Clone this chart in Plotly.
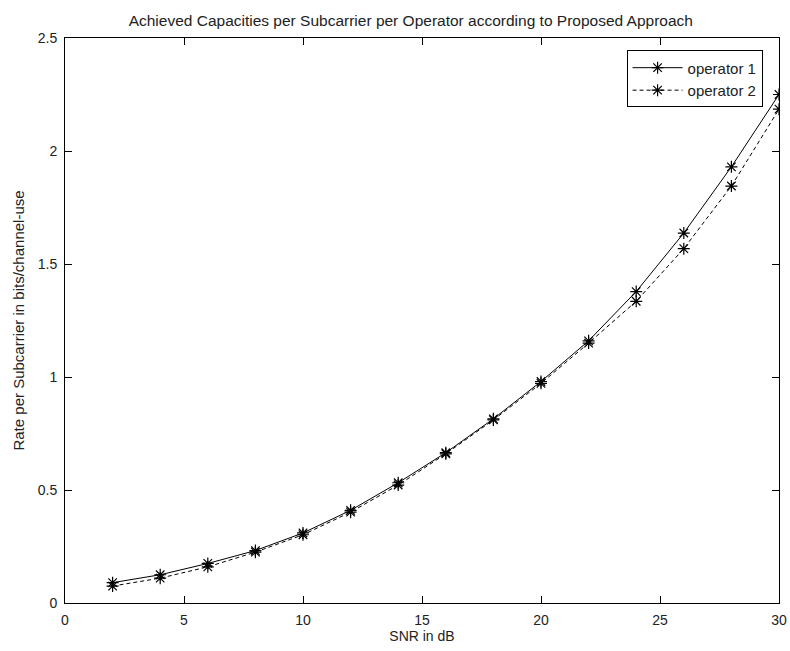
import plotly.graph_objects as go

snr = [2, 4, 6, 8, 10, 12, 14, 16, 18, 20, 22, 24, 26, 28, 30]
op1 = [0.09, 0.125, 0.175, 0.232, 0.31, 0.41, 0.532, 0.665, 0.815, 0.98, 1.16, 1.378, 1.637, 1.93, 2.25]
op2 = [0.075, 0.11, 0.16, 0.225, 0.302, 0.402, 0.522, 0.66, 0.81, 0.972, 1.15, 1.335, 1.568, 1.845, 2.185]
xticks = [0, 5, 10, 15, 20, 25, 30]
yticks = [0, 0.5, 1, 1.5, 2, 2.5]
ytext = ["0", "0.5", "1", "1.5", "2", "2.5"]

font = "Liberation Sans, Arial, sans-serif"
fs = 14

fig = go.Figure()
fig.add_trace(go.Scatter(x=snr, y=op1, mode="lines+markers", name="operator 1",
                         line=dict(color="black", width=1, dash="solid"),
                         marker=dict(symbol="asterisk-open", size=10, color="black",
                                     line=dict(color="black", width=1.2))))
fig.add_trace(go.Scatter(x=snr, y=op2, mode="lines+markers", name="operator 2",
                         line=dict(color="black", width=1, dash="4px,3px"),
                         marker=dict(symbol="asterisk-open", size=10, color="black",
                                     line=dict(color="black", width=1.2))))

axis_common = dict(showgrid=False, zeroline=False, showline=True, linecolor="black",
                   linewidth=1, mirror="allticks", ticks="inside", ticklen=7,
                   automargin=False,
                   tickcolor="black", tickfont=dict(family=font, size=fs, color="#222"))

fig.update_layout(
    width=790, height=651,
    paper_bgcolor="white", plot_bgcolor="white",
    margin=dict(l=65, r=11, t=38, b=48),
    title=dict(text="Achieved Capacities per Subcarrier per Operator according to Proposed Approach",
               x=0.52, xanchor="center", yref="container", y=0.968, yanchor="middle",
               font=dict(family=font, size=15.5, color="#222")),
    xaxis=dict(range=[0, 30], tickvals=xticks, ticktext=[str(v) for v in xticks],
               ticklabelstandoff=4,
               title=dict(text="SNR in dB", font=dict(family=font, size=fs, color="#222"), standoff=4),
               **axis_common),
    yaxis=dict(range=[0, 2.5], tickvals=yticks, ticktext=ytext,
               ticklabelstandoff=4,
               title=dict(text="Rate per Subcarrier in bits/channel-use",
                          font=dict(family=font, size=15, color="#222"), standoff=9),
               **axis_common),
    legend=dict(x=0.977, y=0.978, xanchor="right", yanchor="top",
                bgcolor="white", bordercolor="black", borderwidth=1,
                font=dict(family=font, size=15, color="#222"),
                tracegroupgap=0, itemwidth=50),
    showlegend=True,
)

fig.write_html("out.html",
               config={"displayModeBar": False},
               post_script="document.body.style.margin='0px';document.body.style.overflow='hidden';")
